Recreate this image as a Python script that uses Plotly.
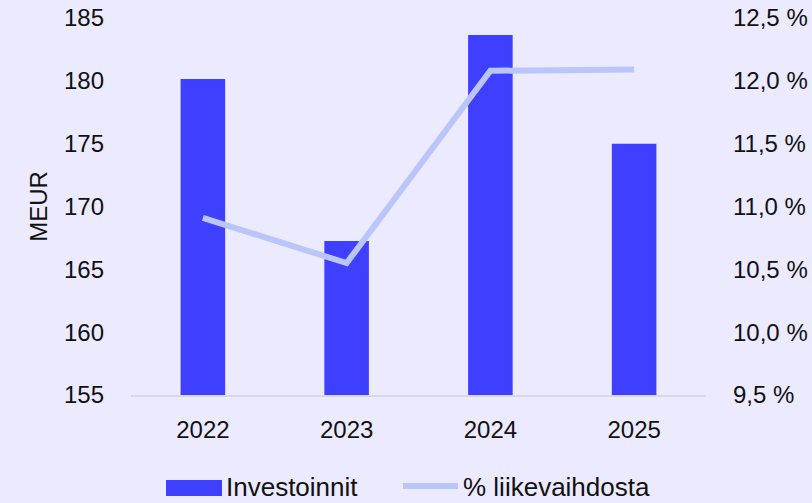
import plotly.graph_objects as go

years = ["2022", "2023", "2024", "2025"]
investoinnit = [180.15, 167.25, 183.65, 175.0]
pct_liikevaihdosta = [10.91, 10.55, 12.08, 12.09]
left_ticks = [155, 160, 165, 170, 175, 180, 185]
right_ticks = [9.5, 10.0, 10.5, 11.0, 11.5, 12.0, 12.5]
right_labels = ["9,5 %", "10,0 %", "10,5 %", "11,0 %", "11,5 %", "12,0 %", "12,5 %"]

FONT = "Liberation Sans, Arial, sans-serif"
BG = "#ECEAFE"
BAR = "#3F3FFF"
LINE = "#B9C5FB"
FS = 24
LFS = 26
LEG_Y = (503 - 486) / 503

fig = go.Figure()
fig.add_trace(go.Bar(
    x=years, y=investoinnit, name="Investoinnit",
    marker=dict(color=BAR, line=dict(width=0)),
    base=0, yaxis="y", showlegend=False,
))
fig.add_trace(go.Scatter(
    x=[None], y=[None], name="Investoinnit", mode="lines",
    line=dict(color=BAR, width=16), yaxis="y", hoverinfo="skip", legend="legend",
))
fig.add_trace(go.Scatter(
    x=years, y=pct_liikevaihdosta, name="% liikevaihdosta",
    mode="lines", line=dict(color=LINE, width=6),
    yaxis="y2", legend="legend2",
))

# taller legend key for the bar series (legend line swatches are capped in height)
fig.add_shape(type="rect", xref="paper", yref="paper",
              x0=(166 - 131) / 575, x1=(222 - 131) / 575,
              y0=(395 - 496) / 377, y1=(395 - 480) / 377,
              fillcolor=BAR, line=dict(width=0), layer="above")

leg_common = dict(orientation="h", yref="container", y=LEG_Y, yanchor="middle",
                  xref="container", xanchor="left", font=dict(size=LFS),
                  itemwidth=55, bgcolor="rgba(0,0,0,0)")

fig.update_layout(
    width=812, height=503,
    paper_bgcolor=BG, plot_bgcolor=BG,
    margin=dict(l=131, r=106, t=18, b=108, autoexpand=False),
    font=dict(family=FONT, size=FS, color="#111111"),
    bargap=0.69,
    showlegend=True,
    legend=dict(x=161 / 812, **leg_common),
    legend2=dict(x=398 / 812, **leg_common),
    xaxis=dict(showgrid=False, showline=True, linecolor="#D9D7E3", linewidth=2,
               ticks="", ticklabelstandoff=12, zeroline=False),
    yaxis=dict(range=[155, 185], tickvals=left_ticks, showgrid=False, zeroline=False,
               showline=False, ticks="", ticklabelstandoff=26,
               title=dict(text="MEUR", standoff=9, font=dict(size=FS))),
    yaxis2=dict(range=[9.5, 12.5], tickvals=right_ticks, ticktext=right_labels,
                overlaying="y", side="right", showgrid=False, zeroline=False,
                showline=False, ticks="", ticklabelstandoff=26),
)

fig.write_html("out.html")
